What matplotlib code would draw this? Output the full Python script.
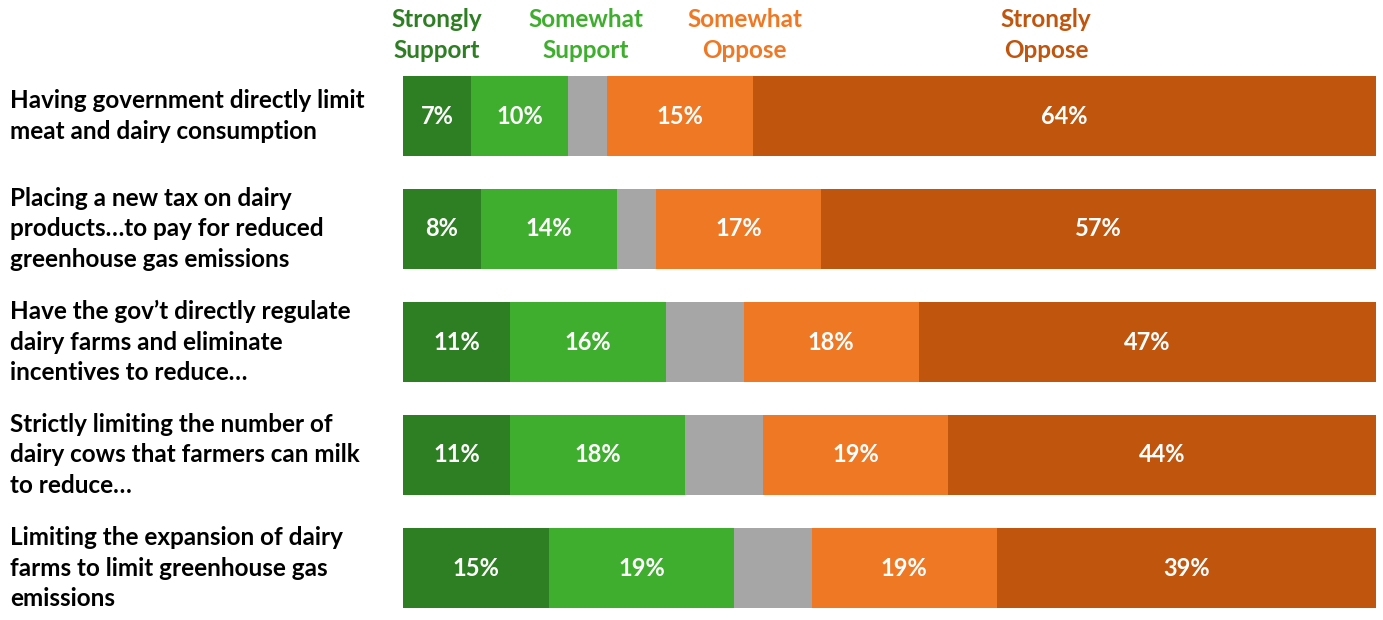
"""Support/oppose stacked bars for dairy policies."""

import matplotlib.pyplot as plt
import numpy as np

plt.rcParams["font.family"] = ["Lato", "DejaVu Sans"]

policies = [
    "Having government directly limit\nmeat and dairy consumption",
    "Placing a new tax on dairy\nproducts…to pay for reduced\ngreenhouse gas emissions",
    "Have the gov’t directly regulate\ndairy farms and eliminate\nincentives to reduce…",
    "Strictly limiting the number of\ndairy cows that farmers can milk\nto reduce…",
    "Limiting the expansion of dairy\nfarms to limit greenhouse gas\nemissions",
]
strongly_support = [7, 8, 11, 11, 15]
somewhat_support = [10, 14, 16, 18, 19]
unsure = [4, 4, 8, 8, 8]
somewhat_oppose = [15, 17, 18, 19, 19]
strongly_oppose = [64, 57, 47, 44, 39]

series = [
    ("Strongly\nSupport", strongly_support, "#2E7F23", True),
    ("Somewhat\nSupport", somewhat_support, "#3FAE2E", True),
    ("", unsure, "#A6A6A6", False),
    ("Somewhat\nOppose", somewhat_oppose, "#EF7824", True),
    ("Strongly\nOppose", strongly_oppose, "#C0550E", True),
]
header_x = [3.5, 18.8, None, 35.1, 66.1]

W, H = 1383, 620
fig = plt.figure(figsize=(W / 100, H / 100), dpi=100)
# axes spans row centres 116..568 px (from top), half a row beyond each
ax = fig.add_axes([403 / W, -4.5 / H, 973 / W, 565 / H])

y = np.arange(len(policies))
left = np.zeros(len(policies))
for (name, vals, color, show), hx in zip(series, header_x):
    vals = np.array(vals, dtype=float)
    ax.barh(y, vals, left=left, height=0.708, color=color, edgecolor="none")
    if show:
        for yi, l, v in zip(y, left, vals):
            ax.text(l + v / 2, yi, f"{int(v)}%", ha="center", va="center",
                    color="white", fontsize=17, fontweight="bold")
        fig.text((403 + hx / 100 * 973) / W, 1 - 35 / H, name,
                 ha="center", va="center", color=color, fontsize=17.5,
                 fontweight="bold", linespacing=1.38)
    left += vals

for yi, label in zip(y, policies):
    ax.text(-393 / 973 * 100, yi, label, ha="left", va="center",
            fontsize=17.5, fontweight="bold", linespacing=1.38, color="black")

ax.set_xlim(0, 100)
ax.set_ylim(len(policies) - 0.5, -0.5)
ax.axis("off")

fig.savefig("out.png", dpi=100)
